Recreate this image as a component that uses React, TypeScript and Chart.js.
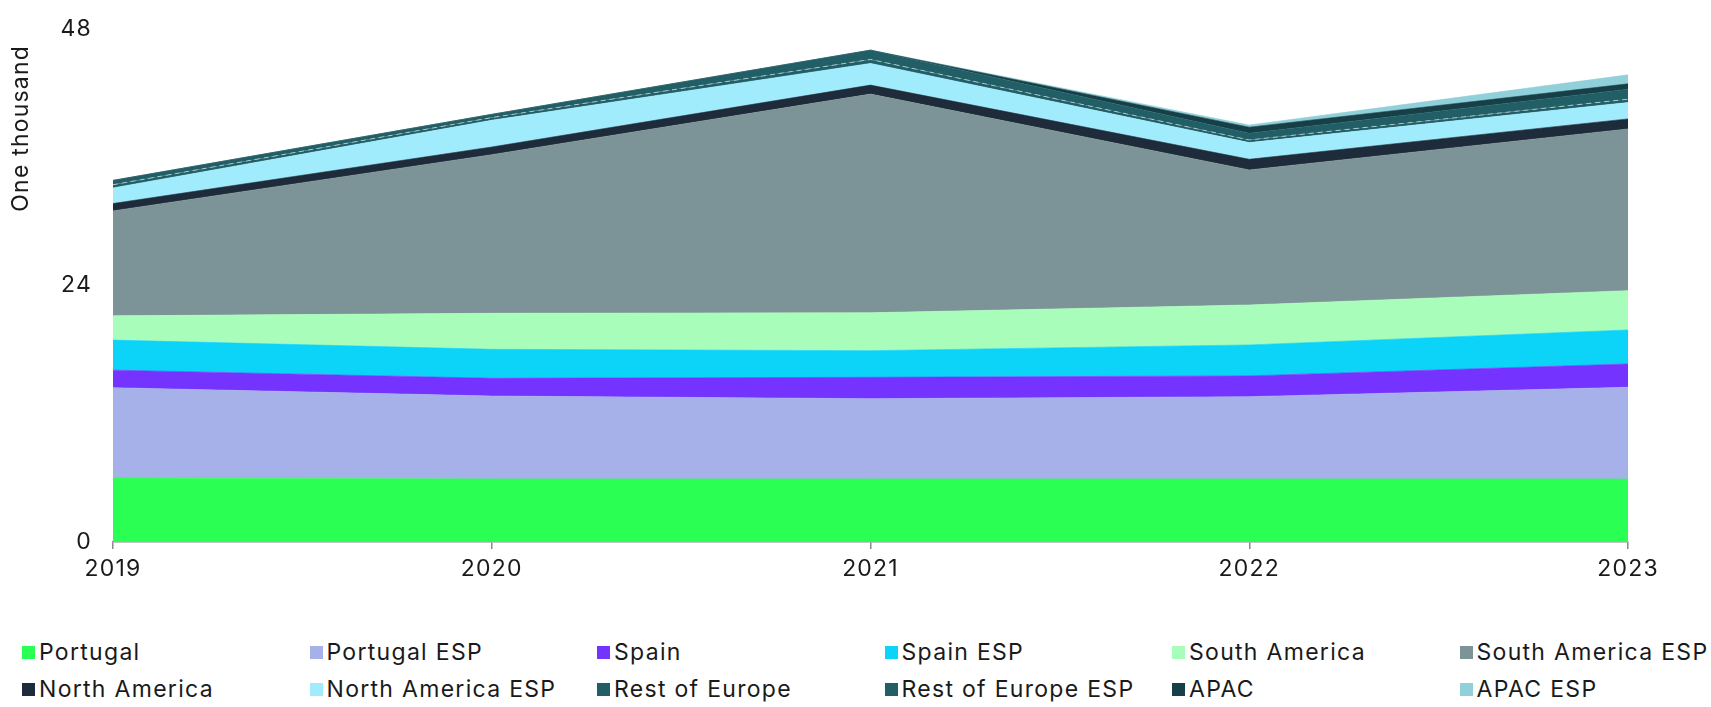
import React, { useEffect, useRef } from "react";
import { Chart, registerables } from "chart.js";

Chart.register(...registerables);

const years = ["2019", "2020", "2021", "2022", "2023"];
const seriesNames = [
  "Portugal",
  "Portugal ESP",
  "Spain",
  "Spain ESP",
  "South America",
  "South America ESP",
  "North America",
  "North America ESP",
  "Rest of Europe",
  "Rest of Europe ESP",
  "APAC",
  "APAC ESP",
];
const portugal = [6.0, 5.9, 5.9, 5.9, 5.9];
const portugalEsp = [8.44, 7.76, 7.51, 7.7, 8.58];
const spain = [1.64, 1.66, 2.0, 1.94, 2.18];
const spainEsp = [2.81, 2.71, 2.49, 2.9, 3.18];
const southAmerica = [2.27, 3.37, 3.55, 3.74, 3.68];
const southAmericaEsp = [9.82, 14.84, 20.46, 12.63, 15.13];
const northAmerica = [0.69, 0.72, 0.84, 1.0, 0.94];
const northAmericaEsp = [1.46, 2.5, 2.03, 1.56, 1.53];
const restOfEurope = [0.3, 0.25, 0.37, 0.25, 0.31];
const restOfEuropeEsp = [0.4, 0.3, 0.87, 0.63, 0.94];
const apac = [0, 0, 0, 0.56, 0.5];
const apacEsp = [0, 0, 0, 0.2, 0.84];
const yTicks = [0, 24, 48];
const yTitle = "One thousand";

const seriesValues = [
  portugal,
  portugalEsp,
  spain,
  spainEsp,
  southAmerica,
  southAmericaEsp,
  northAmerica,
  northAmericaEsp,
  restOfEurope,
  restOfEuropeEsp,
  apac,
  apacEsp,
];
const colors = [
  "#2AFF53",
  "#A5B1E8",
  "#7433FF",
  "#0CD3F8",
  "#A9FDBA",
  "#7C9497",
  "#1E2B3A",
  "#A0ECFD",
  "#225E66",
  "#225E66",
  "#163F47",
  "#90D0DA",
];

const FONT = "Inter, 'Noto Sans', sans-serif";
const TEXT = "#1a1a1a";

const spacingPlugin = {
  id: "spacing",
  beforeDraw(chart: any) {
    chart.ctx.letterSpacing = "1.2px";
  },
  afterDraw(chart: any) {
    const ctx = chart.ctx;
    ctx.save();
    ctx.letterSpacing = "1.2px";
    ctx.fillStyle = TEXT;
    ctx.font = `23px ${FONT}`;
    ctx.translate(21.5, 45);
    ctx.rotate(-Math.PI / 2);
    ctx.textAlign = "right";
    ctx.textBaseline = "middle";
    ctx.fillText(yTitle, 0, 0);
    ctx.restore();
  },
};

export default function App() {
  const ref = useRef<HTMLCanvasElement | null>(null);

  useEffect(() => {
    if (!ref.current) return;
    const datasets = seriesNames.map((name, i) => ({
      label: name,
      data: seriesValues[i],
      backgroundColor: colors[i],
      borderColor: i === 8 ? "rgba(190,220,222,0.8)" : colors[i],
      borderWidth: i === 8 ? 1 : 0.6,
      borderDash: i === 8 ? [5, 4] : [],
      fill: i === 0 ? "origin" : "-1",
      pointRadius: 0,
      pointHoverRadius: 0,
      tension: 0,
    }));
    const chart = new Chart(ref.current, {
      type: "line",
      data: { labels: years, datasets },
      plugins: [spacingPlugin],
      options: {
        animation: false,
        responsive: true,
        maintainAspectRatio: false,
        layout: { padding: { top: 29, right: 83, left: 0, bottom: 0 } },
        plugins: {
          legend: { display: false },
          tooltip: { enabled: false },
        },
        scales: {
          x: {
            offset: false,
            grid: {
              display: true,
              drawOnChartArea: false,
              drawTicks: true,
              tickLength: 7,
              color: "#8a8a8a",
              lineWidth: 1.5,
            },
            border: { display: true, color: "#8a8a8a", width: 1.5 },
            ticks: {
              color: TEXT,
              font: { family: FONT, size: 23 },
              padding: 6,
              maxRotation: 0,
            },
            afterFit: (s: any) => {
              s.height = 58;
              s.paddingLeft = 0;
              s.paddingRight = 0;
            },
          },
          y: {
            stacked: true,
            min: 0,
            max: 48,
            afterBuildTicks: (s: any) => {
              s.ticks = yTicks.map((v) => ({ value: v }));
            },
            grid: { display: false, drawTicks: false },
            border: { display: false },
            ticks: {
              color: TEXT,
              font: { family: FONT, size: 23 },
              padding: 21,
            },
            title: { display: false, text: yTitle },
            afterFit: (s: any) => {
              s.width = 113;
              s.paddingTop = 0;
              s.paddingBottom = 0;
            },
          },
        },
      },
    });
    return () => chart.destroy();
  }, []);

  return (
    <div style={{ position: "relative", width: 1711, height: 707, fontFamily: FONT }}>
      <style>{`body{margin:0}`}</style>
      <div style={{ position: "absolute", left: 0, top: 0, width: 1711, height: 600 }}>
        <canvas ref={ref} />
      </div>
      <div
        style={{
          position: "absolute",
          left: 22,
          top: 634,
          display: "grid",
          gridTemplateColumns: "repeat(6, 287.5px)",
          gridAutoRows: "37px",
          alignItems: "center",
        }}
      >
        {seriesNames.map((name, i) => (
          <div key={name} style={{ display: "flex", alignItems: "center", whiteSpace: "nowrap" }}>
            <span
              style={{
                display: "inline-block",
                width: 13,
                height: 13,
                background: colors[i],
                marginRight: 4,
              }}
            />
            <span style={{ fontSize: 23, letterSpacing: "1.3px", color: TEXT, lineHeight: "37px" }}>
              {name}
            </span>
          </div>
        ))}
      </div>
    </div>
  );
}
